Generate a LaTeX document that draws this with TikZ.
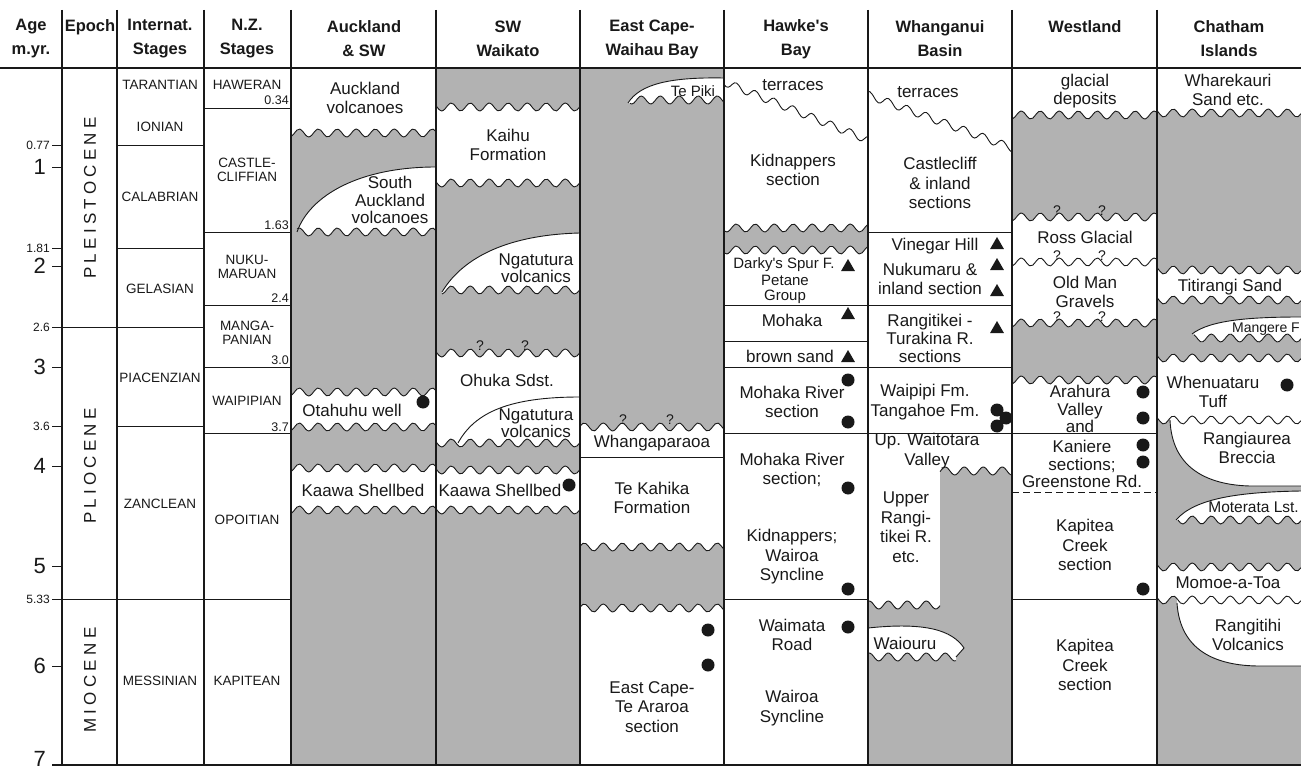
\documentclass[tikz,border=0pt]{standalone}
\usepackage{fontspec}
\setmainfont{Liberation Sans}
\newfontfamily\epochfont[LetterSpace=25]{Liberation Sans}
\usetikzlibrary{shapes.geometric}
\definecolor{fg}{RGB}{178,178,178}
\definecolor{ink}{RGB}{25,25,25}
\newcommand\wv[3]{-- plot[domain=#1:#2,samples=50,smooth] (\x,{#3+4*sin(18.947*mod(\x,19))})}
\newcommand\wline[3]{\draw[wl] plot[domain=#1:#2,samples=50,smooth] (\x,{#3+4*sin(18.947*mod(\x,19))});}
\begin{document}
\begin{tikzpicture}[x=1pt,y=-1pt,
  wl/.style={ink,line width=0.9pt},
  ln/.style={ink,line width=1.1pt},
  tn/.style={ink,line width=0.8pt},
  tx/.style={font=\fontsize{17}{19.5}\selectfont,align=center,inner sep=0pt,text=ink},
  txs/.style={font=\fontsize{17}{17.5}\selectfont,align=center,inner sep=0pt,text=ink},
  sm/.style={font=\fontsize{15}{15}\selectfont,align=center,inner sep=0pt,text=ink},
  hd/.style={font=\bfseries\fontsize{16.5}{24}\selectfont,align=center,inner sep=0pt,text=ink},
  st/.style={font=\fontsize{13.5}{14}\selectfont,align=center,inner sep=0pt,text=ink},
  nb/.style={font=\fontsize{12.5}{13}\selectfont,anchor=east,inner sep=0pt,text=ink},
  agb/.style={font=\fontsize{22}{22}\selectfont,anchor=east,inner sep=0pt,text=ink},
  ags/.style={font=\fontsize{12}{12}\selectfont,anchor=east,inner sep=0pt,text=ink},
  qm/.style={font=\fontsize{14}{14}\selectfont,inner sep=0pt,text=ink},
  ep/.style={font=\epochfont\fontsize{17}{17}\selectfont,rotate=90,inner sep=0pt,text=ink},
  dot/.style={circle,fill=ink,minimum size=13pt,inner sep=0pt},
  tri/.style={regular polygon,regular polygon sides=3,fill=ink,minimum size=16pt,inner sep=0pt}
]
\fill[white] (0,0) rectangle (1301,770);
\useasboundingbox (0,0) rectangle (1301,770);

% ---------- gray fills ----------
% Auckland
\fill[fg] (291,133) \wv{291}{436}{133} -- (436,392) \wv{436}{291}{392} -- cycle;
\fill[fg] (291,427) \wv{291}{436}{427} -- (436,468) \wv{436}{291}{468} -- cycle;
\fill[fg] (291,510) \wv{291}{436}{510} -- (436,765) -- (291,765) -- cycle;
\fill[white] (297,232) .. controls (310,195) and (360,167) .. (436,167) -- (436,232) \wv{436}{297}{232} -- cycle;
% SW Waikato
\fill[fg] (436,68) -- (580,68) -- (580,107) \wv{580}{436}{107} -- cycle;
\fill[fg] (436,183) \wv{436}{580}{183} -- (580,353) \wv{580}{436}{353} -- cycle;
\fill[fg] (436,443) \wv{436}{580}{443} -- (580,470) \wv{580}{436}{470} -- cycle;
\fill[fg] (436,510) \wv{436}{580}{510} -- (580,765) -- (436,765) -- cycle;
\fill[white] (442,292) .. controls (460,262) and (500,235) .. (580,233) -- (580,290) \wv{580}{442}{290} -- cycle;
% East Cape
\fill[fg] (580,68) -- (724,68) -- (724,427) \wv{724}{580}{427} -- cycle;
\fill[fg] (580,547) \wv{580}{724}{547} -- (724,608) \wv{724}{580}{608} -- cycle;
\fill[white] (628,103) .. controls (640,84) and (670,77) .. (724,78) -- (724,100) \wv{724}{630}{100} -- cycle;
% Hawke's Bay
\fill[fg] (724,228) \wv{724}{868}{228} -- (868,250) \wv{868}{724}{250} -- cycle;
% Whanganui
\fill[fg] (868,605) \wv{868}{940}{605} -- (940,471) \wv{940}{1012}{471} -- (1012,765) -- (868,765) -- cycle;
\fill[white] (868,628) .. controls (925,622) and (952,630) .. (964,648) -- (956,657) \wv{956}{868}{657} -- cycle;
% Westland
\fill[fg] (1012,115) \wv{1012}{1157}{115} -- (1157,217) \wv{1157}{1012}{217} -- cycle;
\fill[fg] (1012,323) \wv{1012}{1157}{323} -- (1157,380) \wv{1157}{1012}{380} -- cycle;
% Chatham
\fill[fg] (1157,113) \wv{1157}{1301}{113} -- (1301,270) \wv{1301}{1157}{270} -- cycle;
\fill[fg] (1157,300) \wv{1157}{1301}{300} -- (1301,358) \wv{1301}{1157}{358} -- cycle;
\fill[fg] (1157,420) \wv{1157}{1301}{420} -- (1301,567) \wv{1301}{1157}{567} -- cycle;
\fill[fg] (1157,600) \wv{1157}{1301}{600} -- (1301,765) -- (1157,765) -- cycle;
\fill[white] (1192,334) .. controls (1210,320) and (1250,317) .. (1301,317) -- (1301,338) \wv{1301}{1194}{338} -- cycle;
\fill[white] (1170,412) -- (1301,412) -- (1301,486) -- (1250,486) .. controls (1210,485) and (1172,470) .. (1170,420) -- cycle;
\fill[white] (1176,520) .. controls (1195,498) and (1240,492) .. (1301,491) -- (1301,520) \wv{1301}{1178}{520} -- cycle;
\fill[white] (1177,592) -- (1301,592) -- (1301,666) -- (1260,666) .. controls (1215,666) and (1180,650) .. (1177,603) -- cycle;

% ---------- wavy lines ----------
\wline{291}{436}{133}
\wline{297}{436}{232}
\wline{291}{436}{392}
\wline{291}{436}{427}
\wline{291}{436}{468}
\wline{291}{436}{510}
\draw[wl] (297,232) .. controls (310,195) and (360,167) .. (436,167);
\wline{436}{580}{107}
\wline{436}{580}{183}
\wline{442}{580}{290}
\wline{436}{580}{353}
\wline{436}{580}{443}
\wline{436}{580}{470}
\wline{436}{580}{510}
\draw[wl] (442,292) .. controls (460,262) and (500,235) .. (580,233);
\draw[wl] (458,443) .. controls (475,412) and (510,397) .. (580,397);
\wline{630}{724}{100}
\wline{580}{724}{427}
\wline{580}{724}{547}
\wline{580}{724}{608}
\draw[wl] (628,103) .. controls (640,84) and (670,77) .. (724,78);
\wline{724}{868}{228}
\wline{724}{868}{250}
\draw[wl] plot[domain=724:868,samples=70,smooth] (\x,{82+58*(\x-724)/144+4*sin(18.947*mod(\x,19))});
\draw[wl] plot[domain=868:1012,samples=70,smooth] (\x,{95+53*(\x-868)/144+4*sin(18.947*mod(\x,19))});
\wline{868}{940}{605}
\wline{940}{1012}{471}
\draw[wl] (868,628) .. controls (925,622) and (952,630) .. (964,648) -- (956,657);
\wline{868}{956}{657}
\wline{1012}{1157}{115}
\wline{1012}{1157}{217}
\wline{1012}{1157}{262}
\wline{1012}{1157}{323}
\wline{1012}{1157}{380}
\wline{1157}{1301}{113}
\wline{1157}{1301}{270}
\wline{1157}{1301}{300}
\wline{1157}{1301}{358}
\wline{1157}{1301}{420}
\wline{1157}{1301}{567}
\wline{1157}{1301}{600}
\draw[wl] (1192,334) .. controls (1210,320) and (1250,317) .. (1301,317);
\wline{1194}{1301}{338}
\draw[wl] (1170,420) .. controls (1172,470) and (1210,485) .. (1250,486) -- (1301,486);
\draw[wl] (1176,520) .. controls (1195,498) and (1240,492) .. (1301,491);
\wline{1178}{1301}{520}
\draw[wl] (1177,603) .. controls (1180,650) and (1215,666) .. (1260,666) -- (1301,666);

% ---------- straight lines ----------
\draw[ln] (0,68) -- (1301,68);
\draw[ln] (52,765) -- (1301,765);
\foreach \xx in {62,117,204,291,436,580,724,868,1012,1157}
  \draw[ln] (\xx,10) -- (\xx,765);
\foreach \yy in {145,167,248,266,367,426,466,566,666}
  \draw[tn] (52,\yy) -- (62,\yy);
\draw[tn] (117,145) -- (204,145);
\draw[tn] (117,248) -- (204,248);
\draw[tn] (52,327) -- (204,327);
\draw[tn] (117,426) -- (204,426);
\draw[tn] (52,599) -- (291,599);
\foreach \yy in {108,232,305,367,433}
  \draw[tn] (204,\yy) -- (291,\yy);
\draw[tn] (580,457) -- (724,457);
\foreach \yy in {305,341,367,433,599}
  \draw[tn] (724,\yy) -- (868,\yy);
\foreach \yy in {232,305,367,433}
  \draw[tn] (868,\yy) -- (1012,\yy);
\draw[tn] (1012,433) -- (1157,433);
\draw[tn,dash pattern=on 7pt off 4pt] (1012,492) -- (1157,492);
\draw[tn] (1012,599) -- (1157,599);

% ---------- header ----------
\node[hd] (hAge) at (31,39) {Age\\m.yr.};
\node[hd] (hEp) at (90,27) {Epoch};
\node[hd] (hIn) at (160,39) {Internat.\\Stages};
\node[hd] (hNz) at (247,39) {N.Z.\\Stages};
\node[hd] (hAu) at (364,39) {Auckland\\\& SW};
\node[hd] (hSw) at (508,39) {SW\\Waikato};
\node[hd] (hEc) at (652,39) {East Cape-\\Waihau Bay};
\node[hd] (hHb) at (796,39) {Hawke\textquotesingle s\\Bay};
\node[hd] (hWb) at (940,39) {Whanganui\\Basin};
\node[hd] (hWe) at (1085,27) {Westland};
\node[hd] (hCi) at (1229,39) {Chatham\\Islands};

% ---------- ages ----------
\node[ags] (a077) at (50,145) {0.77};
\node[agb] (a1) at (46,167) {1};
\node[ags] (a181) at (50,248) {1.81};
\node[agb] (a2) at (46,266) {2};
\node[ags] (a26) at (50,327) {2.6};
\node[agb] (a3) at (46,367) {3};
\node[ags] (a36) at (50,426) {3.6};
\node[agb] (a4) at (46,466) {4};
\node[agb] (a5) at (46,566) {5};
\node[ags] (a533) at (50,599) {5.33};
\node[agb] (a6) at (46,666) {6};
\node[agb] (a7) at (46,759) {7};

% ---------- epochs ----------
\node[ep] (ePl) at (90,198) {PLEISTOCENE};
\node[ep] (ePi) at (90,466) {PLIOCENE};
\node[ep] (eMi) at (90,680) {MIOCENE};

% ---------- stages ----------
\node[st] (sTa) at (160,85) {TARANTIAN};
\node[st] (sIo) at (160,127) {IONIAN};
\node[st] (sCa) at (160,197) {CALABRIAN};
\node[st] (sGe) at (160,289) {GELASIAN};
\node[st] (sPi) at (160,378) {PIACENZIAN};
\node[st] (sZa) at (160,504) {ZANCLEAN};
\node[st] (sMe) at (160,681) {MESSINIAN};
\node[st] (nHa) at (247,85) {HAWERAN};
\node[st] (nCa) at (247,170) {CASTLE-\\CLIFFIAN};
\node[st] (nNu) at (247,267) {NUKU-\\MARUAN};
\node[st] (nMa) at (247,333) {MANGA-\\PANIAN};
\node[st] (nWa) at (247,401) {WAIPIPIAN};
\node[st] (nOp) at (247,520) {OPOITIAN};
\node[st] (nKa) at (247,681) {KAPITEAN};
\node[nb] (b034) at (289,100) {0.34};
\node[nb] (b163) at (289,225) {1.63};
\node[nb] (b24) at (289,298) {2.4};
\node[nb] (b30) at (289,360) {3.0};
\node[nb] (b37) at (289,427) {3.7};

% ---------- Auckland ----------
\node[tx] (aAv) at (365,98) {Auckland\\volcanoes};
\node[txs] (aSa) at (390,200) {South\\Auckland\\volcanoes};
\node[tx] (aOt) at (352,410) {Otahuhu well};
\node[tx] (aKa) at (363,490) {Kaawa Shellbed};
\node[dot] (dA1) at (423,402) {};
% ---------- SW Waikato ----------
\node[tx] (wKh) at (508,145) {Kaihu\\Formation};
\node[txs] (wNg1) at (536,268) {Ngatutura\\volcanics};
\node[tx] (wOh) at (507,380) {Ohuka Sdst.};
\node[txs] (wNg2) at (536,423) {Ngatutura\\volcanics};
\node[tx] (wKa) at (500,490) {Kaawa Shellbed};
\node[dot] (dW1) at (569,485) {};
\node[qm] (qW1) at (480,346) {?};
\node[qm] (qW2) at (525,346) {?};
% ---------- East Cape ----------
\node[font=\fontsize{15}{15}\selectfont,inner sep=0pt,text=ink] (eTp) at (693,91) {Te Piki};
\node[tx] (eWh) at (652,443) {Whangaparaoa};
\node[tx] (eTk) at (652,498) {Te Kahika\\Formation};
\node[tx] (eEc) at (652,707) {East Cape-\\Te Araroa\\section};
\node[dot] (dE1) at (708,630) {};
\node[dot] (dE2) at (708,665) {};
\node[qm] (qE1) at (623,420) {?};
\node[qm] (qE2) at (670,420) {?};
% ---------- Hawke's Bay ----------
\node[tx] (hTe) at (793,85) {terraces};
\node[tx] (hKi) at (793,170) {Kidnappers\\section};
\node[sm] (hDa) at (784,265) {Darky\textquotesingle s Spur F.};
\node[sm] (hPe) at (785,289) {Petane\\Group};
\node[tx] (hMo) at (792,320) {Mohaka};
\node[tx] (hBr) at (790,356) {brown sand};
\node[tx] (hMr1) at (792,402) {Mohaka River\\section};
\node[tx] (hMr2) at (792,470) {Mohaka River\\section;};
\node[tx] (hKw) at (792,557) {Kidnappers;\\Wairoa\\Syncline};
\node[tx] (hWr) at (792,635) {Waimata\\Road};
\node[tx] (hWs) at (792,708) {Wairoa\\Syncline};
\node[tri] (tH1) at (848,267) {};
\node[tri] (tH2) at (848,315) {};
\node[tri] (tH3) at (848,358) {};
\node[dot] (dH1) at (848,380) {};
\node[dot] (dH2) at (848,422) {};
\node[dot] (dH3) at (848,488) {};
\node[dot] (dH4) at (848,589) {};
\node[dot] (dH5) at (848,627) {};
% ---------- Whanganui ----------
\node[tx] (gTe) at (928,92) {terraces};
\node[tx] (gCa) at (940,183) {Castlecliff\\\& inland\\sections};
\node[tx] (gVi) at (935,246) {Vinegar Hill};
\node[tx] (gNu) at (930,279) {Nukumaru \&\\inland section};
\node[font=\fontsize{17}{18}\selectfont,align=center,inner sep=0pt,text=ink] (gRa) at (930,338) {Rangitikei -\\Turakina R.\\sections};
\node[tx] (gWa) at (925,402) {Waipipi Fm.\\Tangahoe Fm.};
\node[tx] (gUp) at (927,451) {Up. Waitotara\\Valley};
\node[tx] (gUr) at (906,527) {Upper\\Rangi-\\tikei R.\\etc.};
\node[tx] (gWo) at (905,643) {Waiouru};
\node[tri] (tG1) at (997,245) {};
\node[tri] (tG2) at (997,266) {};
\node[tri] (tG3) at (997,292) {};
\node[tri] (tG4) at (997,329) {};
\node[dot] (dG1) at (997,410) {};
\node[dot] (dG2) at (1006,418) {};
\node[dot] (dG3) at (997,426) {};
% ---------- Westland ----------
\node[txs] (lGl) at (1085,91) {glacial\\deposits};
\node[tx] (lRo) at (1085,237) {Ross Glacial};
\node[tx] (lOm) at (1085,292) {Old Man\\Gravels};
\node[txs] (lAr) at (1080,409) {Arahura\\Valley\\and};
\node[txs] (lKn) at (1082,464) {Kaniere\\sections;\\Greenstone Rd.};
\node[tx] (lKc1) at (1085,545) {Kapitea\\Creek\\section};
\node[tx] (lKc2) at (1085,665) {Kapitea\\Creek\\section};
\node[dot] (dL1) at (1143,392) {};
\node[dot] (dL2) at (1143,418) {};
\node[dot] (dL3) at (1143,445) {};
\node[dot] (dL4) at (1143,462) {};
\node[dot] (dL5) at (1143,589) {};
\node[qm] (qL1) at (1057,211) {?};
\node[qm] (qL2) at (1102,211) {?};
\node[qm] (qL3) at (1057,256) {?};
\node[qm] (qL4) at (1102,256) {?};
\node[qm] (qL5) at (1057,317) {?};
\node[qm] (qL6) at (1102,317) {?};
% ---------- Chatham ----------
\node[tx] (cWh) at (1228,90) {Wharekauri\\Sand etc.};
\node[tx] (cTi) at (1230,287) {Titirangi Sand};
\node[font=\fontsize{14}{14}\selectfont,anchor=east,inner sep=0pt,text=ink] (cMa) at (1300,329) {Mangere F};
\node[tx] (cWn) at (1213,392) {Whenuataru\\Tuff};
\node[tx] (cRa) at (1247,448) {Rangiaurea\\Breccia};
\node[font=\fontsize{15.5}{16}\selectfont,anchor=east,inner sep=0pt,text=ink] (cMo) at (1299,507) {Moterata Lst.};
\node[tx] (cMt) at (1228,583) {Momoe-a-Toa};
\node[tx] (cRv) at (1248,635) {Rangitihi\\Volcanics};
\node[dot] (dC1) at (1287,385) {};
\end{tikzpicture}
\end{document}
